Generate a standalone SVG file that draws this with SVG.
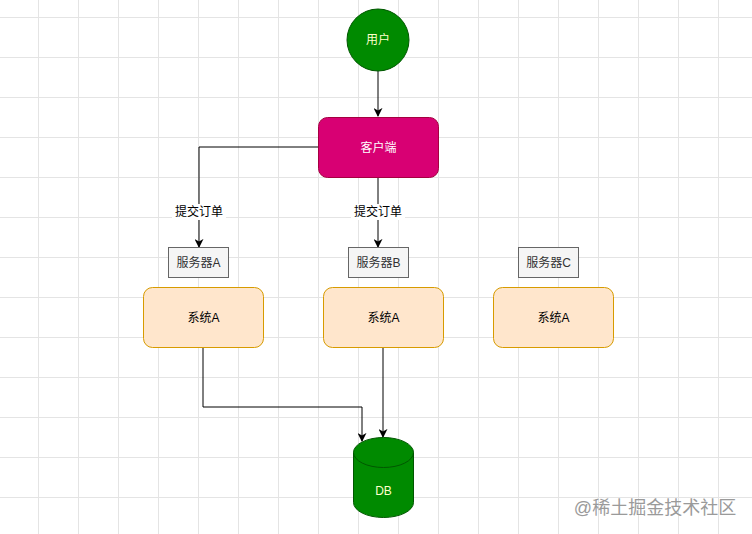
<svg xmlns="http://www.w3.org/2000/svg" width="752" height="534" viewBox="0 0 752 534">
<defs>
<pattern id="grid" x="-2" y="-23" width="40" height="40" patternUnits="userSpaceOnUse">
<path d="M0 0.5H40M0.5 0V40" fill="none" stroke="#e4e4e4" stroke-width="1"/>
</pattern>
<marker id="arr" viewBox="0 0 10 10" refX="9" refY="5" markerWidth="9" markerHeight="9" markerUnits="userSpaceOnUse" orient="auto">
<path d="M0 0L10 5L0 10L3 5Z" fill="#000"/>
</marker>
<style>
text{font-family:"Liberation Sans","Noto Sans CJK SC",sans-serif;font-size:12px;text-anchor:middle;dominant-baseline:central}
.edge{fill:none;stroke:#000;stroke-width:1}
.srv{fill:#f5f5f5;stroke:#666}
.srvt{fill:#333}
.sys{fill:#ffe6cc;stroke:#d79b00}
.green{fill:#008a00;stroke:#005700}
.lt{fill:#ffffcc}
.lbl{fill:#fff}
</style>
</defs>
<rect width="752" height="534" fill="#fff"/>
<rect width="752" height="534" fill="url(#grid)"/>

<g id="connectors">
<path class="edge" d="M378 71V116" marker-end="url(#arr)"/>
<path class="edge" d="M318 147H199V247" marker-end="url(#arr)"/>
<path class="edge" d="M378 177V247" marker-end="url(#arr)"/>
<path class="edge" d="M203 347V407H362V441" marker-end="url(#arr)"/>
<path class="edge" d="M383 347V437" marker-end="url(#arr)"/>
<rect class="lbl" x="172" y="204" width="54" height="16"/>
<text x="199" y="212">提交订单</text>
<rect class="lbl" x="351" y="204" width="54" height="16"/>
<text x="378" y="212">提交订单</text>
</g>

<g id="user">
<circle class="green" cx="378" cy="40" r="31"/>
<text class="lt" x="378" y="40">用户</text>
</g>

<g id="client">
<rect x="318.5" y="117.5" width="120" height="60" rx="9" fill="#d80073" stroke="#a50040"/>
<text x="378.5" y="147.5" fill="#fff">客户端</text>
</g>

<g id="serverA">
<rect class="srv" x="168.5" y="247.5" width="60" height="30"/>
<text class="srvt" x="198.5" y="262.5">服务器A</text>
</g>
<g id="serverB">
<rect class="srv" x="348.5" y="247.5" width="60" height="30"/>
<text class="srvt" x="378.5" y="262.5">服务器B</text>
</g>
<g id="serverC">
<rect class="srv" x="518.5" y="247.5" width="60" height="30"/>
<text class="srvt" x="548.5" y="262.5">服务器C</text>
</g>

<g id="sysA1">
<rect class="sys" x="143.5" y="287.5" width="120" height="60" rx="9"/>
<text x="203.5" y="317.5">系统A</text>
</g>
<g id="sysA2">
<rect class="sys" x="323.5" y="287.5" width="120" height="60" rx="9"/>
<text x="383.5" y="317.5">系统A</text>
</g>
<g id="sysA3">
<rect class="sys" x="493.5" y="287.5" width="120" height="60" rx="9"/>
<text x="553.5" y="317.5">系统A</text>
</g>

<g id="db">
<path class="green" d="M353.5 452.5A30 15 0 0 1 413.5 452.5V502.5A30 15 0 0 1 353.5 502.5Z"/>
<path d="M353.5 452.5A30 15 0 0 0 413.5 452.5" fill="none" stroke="#005700"/>
<text class="lt" x="383.5" y="491">DB</text>
</g>

<text x="655" y="508" style="font-size:18px;fill:#9a9a9a">@稀土掘金技术社区</text>
</svg>
